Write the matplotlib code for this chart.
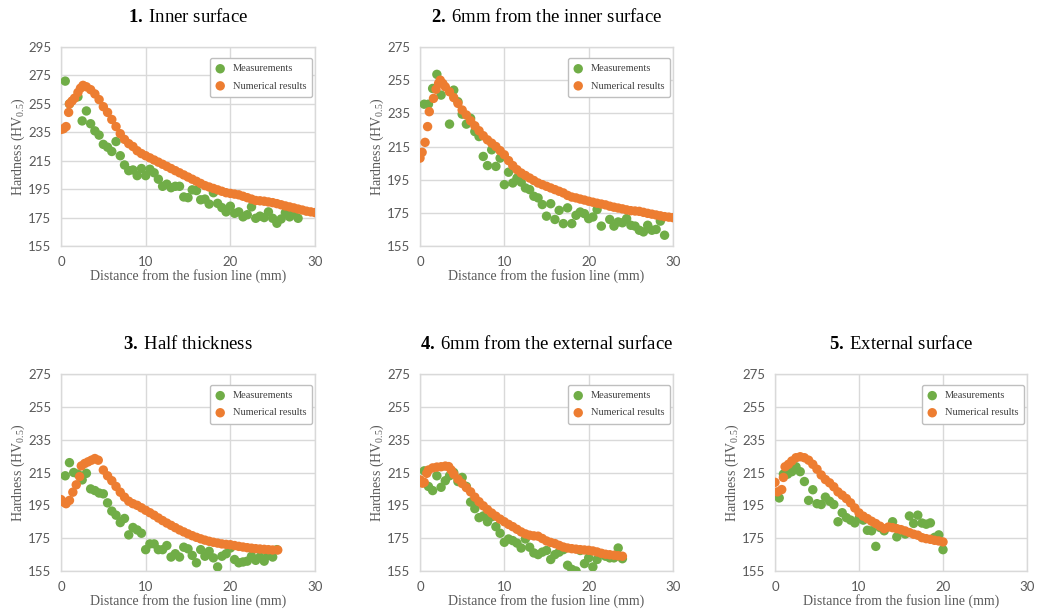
import matplotlib
matplotlib.use('Agg')
import matplotlib.pyplot as plt

# -- colours / fonts (Excel look) -------------------------------------------
GREEN = '#70AD47'
ORANGE = '#ED7D31'
GRID = '#D9D9D9'
TICK = '#595959'
SERIF = 'Liberation Serif'

plt.rcParams['mathtext.fontset'] = 'custom'
plt.rcParams['mathtext.rm'] = SERIF
plt.rcParams['mathtext.it'] = SERIF + ':italic'
plt.rcParams['mathtext.bf'] = SERIF + ':bold'

# -- data --------------------------------------------------------------------
# 1. Inner surface
meas1_x = [0.5, 1, 2, 2.5, 3, 3.5, 4, 4.5, 5, 5.5, 6, 6.5, 7, 7.5, 8, 8.5, 9, 9.5,
           10, 10.5, 11, 11.5, 12, 12.5, 13, 13.5, 14, 14.5, 15, 15.5, 16, 16.5,
           17, 17.5, 18, 18.5, 19, 19.5, 20, 20.5, 21, 21.5, 22, 22.5, 23, 23.5,
           24, 24.5, 25, 25.5, 26, 26.5, 27, 27.5, 28]
meas1_y = [271, 255, 260, 243, 250, 241, 236, 233, 226.5, 224.5, 221.5, 228.5,
           218.5, 212, 208, 208.5, 204.5, 209.5, 204.5, 209, 206.5, 202, 197,
           198.5, 196, 197, 197, 189.5, 189, 194.5, 194, 187.5, 188, 184.5, 192.5,
           185, 182, 179, 183, 178, 179, 175.5, 177, 182.5, 174.5, 176, 175,
           179, 174.5, 171, 174, 178.5, 175.5, 178, 174.5]
num1_x = [0, 0.3, 0.6, 0.9, 1.0, 1.3, 1.6, 2.0, 2.3, 2.6, 3.0, 3.5, 4.0, 4.5, 5.0,
          5.5, 6.0, 6.5, 7.0, 7.5, 8.0, 8.5, 9.0, 9.5, 10, 10.5, 11, 11.5, 12,
          12.5, 13, 13.5, 14, 14.5, 15, 15.5, 16, 16.5, 17, 17.5, 18, 18.5, 19,
          19.5, 20, 20.5, 21, 21.5, 22, 22.5, 23, 23.5, 24, 24.5, 25, 25.5, 26,
          26.5, 27, 27.5, 28, 28.5, 29, 29.5, 30]
num1_y = [237, 237.5, 239, 249, 255, 257, 259, 263, 266, 268, 267, 265, 262, 258,
          253, 249, 244, 239, 234, 230, 227, 225, 222, 220, 218.5, 217, 215.5,
          214, 212.5, 211, 209.5, 208, 206.5, 205, 203.5, 202, 200.5, 199, 197.5,
          196.5, 195.5, 194.5, 193.5, 192.5, 192, 191.5, 191, 190, 189, 188, 187,
          186.8, 186.5, 186, 185.5, 184.8, 184, 183.2, 182.5, 181.8, 181, 180.3,
          179.5, 179, 178.5]

# 2. 6mm from the inner surface
meas2_x = [0.5, 1, 1.5, 2, 2.5, 3.5, 4, 4.5, 5, 5.5, 6, 6.5, 7, 7.5, 8, 8.5, 9,
           9.5, 10, 10.5, 11, 11.5, 12, 12.5, 13, 13.5, 14, 14.5, 15, 15.5, 16,
           16.5, 17, 17.5, 18, 18.5, 19, 19.5, 20, 20.5, 21, 21.5, 22.5, 23, 23.5,
           24, 24.5, 25, 25.5, 26, 26.5, 27, 27.5, 28, 28.5, 29]
meas2_y = [240.5, 240.5, 250, 258.5, 246, 228.5, 249, 242, 234.5, 228.5, 232, 224,
           221, 209, 203.5, 213, 203, 208, 192, 199.5, 193, 196, 193.5, 190, 189,
           185, 184, 180, 173, 180.5, 171, 176.5, 168.5, 178, 168.5, 173.5, 175.5,
           174.5, 171.5, 172.5, 177, 167, 171, 167, 169.5, 169, 171.5, 167.5, 167,
           164.5, 163.5, 167.5, 164.5, 165, 170, 161.5]
num2_x = [0, 0.25, 0.6, 0.9, 1.1, 1.6, 1.9, 2.2, 2.4, 2.7, 3.0, 3.5, 4.0, 4.5, 5.0,
          5.5, 6.0, 6.5, 7.0, 7.5, 8.0, 8.5, 9.0, 9.5, 10, 10.5, 11, 11.5, 12,
          12.5, 13, 13.5, 14, 14.5, 15, 15.5, 16, 16.5, 17, 17.5, 18, 18.5, 19,
          19.5, 20, 20.5, 21, 21.5, 22, 22.5, 23, 23.5, 24, 24.5, 25, 25.5, 26,
          26.5, 27, 27.5, 28, 28.5, 29, 29.5, 30]
num2_y = [208, 211.5, 217.5, 227, 236, 244, 249.5, 253, 255, 253, 251, 248, 244.5,
          241, 237, 234, 230.5, 227.5, 224.5, 221.5, 219, 217, 215, 212.5, 210,
          206.5, 203.5, 201, 199, 197.5, 196, 194.5, 193, 192, 191, 190, 189, 188,
          187, 185.5, 184.5, 184, 183.3, 182.7, 182, 181.4, 180.8, 180.3, 179.8,
          179, 178.4, 177.9, 177.4, 176.8, 176.3, 176.1, 175.9, 175.3, 174.7,
          174.2, 173.7, 173.2, 172.7, 172.4, 172.1]

# 3. Half thickness
meas3_x = [0.5, 1, 1.5, 2, 2.5, 3, 3.5, 4, 4.5, 5, 5.5, 6, 6.5, 7, 7.5, 8, 8.5, 9,
           9.5, 10, 10.5, 11, 11.5, 12, 12.5, 13, 13.5, 14, 14.5, 15, 15.5, 16,
           16.5, 17, 17.5, 18, 18.5, 19, 19.5, 20, 20.5, 21, 21.5, 22, 22.5, 23,
           23.5, 24, 24.5, 25, 25.5]
meas3_y = [213, 221, 215, 214, 210.5, 214.5, 205, 204, 202.5, 202, 196.5, 191.5,
           189, 184.5, 187, 177, 181.5, 180, 178, 168, 171.5, 171.5, 168, 168,
           170.5, 163.5, 165.5, 163.5, 169.5, 168.5, 164.5, 160, 168, 164, 167,
           163, 157.5, 164, 165.5, 169, 162, 160, 160.5, 161, 164, 161.5, 163.5,
           161, 164.5, 163.5, 168]
num3_x = [0, 0.3, 0.6, 1.0, 1.4, 1.8, 2.2, 2.4, 2.8, 3.2, 3.6, 4.0, 4.4, 5.0, 5.5,
          6.0, 6.5, 7.0, 7.5, 8.0, 8.5, 9.0, 9.5, 10, 10.5, 11, 11.5, 12, 12.5,
          13, 13.5, 14, 14.5, 15, 15.5, 16, 16.5, 17, 17.5, 18, 18.5, 19, 19.5,
          20, 20.5, 21, 21.5, 22, 22.5, 23, 23.5, 24, 24.5, 25, 25.6]
num3_y = [198.5, 197, 196, 198, 203, 207.5, 212.5, 219, 220.5, 221.5, 222.5,
          223.5, 222.5, 216.5, 213, 210, 206.5, 203, 200, 197.5, 196, 195, 193.5,
          192, 190.5, 189, 187.3, 185.7, 184.2, 182.8, 181.4, 180, 178.8, 177.6,
          176.5, 175.5, 174.6, 173.8, 173.1, 172.5, 172, 171.5, 171.2, 171,
          170.5, 170, 169.6, 169.2, 168.9, 168.6, 168.4, 168.2, 168, 167.8, 167.8]

# 4. 6mm from the external surface
meas4_x = [0.5, 1, 1.5, 2, 2.5, 3, 3.5, 4, 4.5, 5, 5.5, 6, 6.5, 7, 7.5, 8, 8.5, 9,
           9.5, 10, 10.5, 11, 11.5, 12, 12.5, 13, 13.5, 14, 14.5, 15, 15.5, 16,
           16.5, 17, 17.5, 18, 18.5, 19, 19.5, 20, 20.5, 21, 21.5, 22, 22.5, 23,
           23.5, 24]
meas4_y = [216, 206.5, 204, 213, 206, 210, 213, 215, 209.5, 212, 206.5, 197, 193,
           187.5, 188.5, 185, 188, 182, 178, 172.5, 174.5, 173.5, 172, 169, 174.5,
           169.5, 166, 165, 166.5, 167.5, 162, 165, 166.5, 168, 158.5, 156, 155,
           167.5, 159.5, 163, 157.5, 162, 165.5, 164, 163, 163, 169, 162.5]
num4_x = [0, 0.3, 0.5, 0.8, 1.0, 1.5, 2.0, 2.5, 3.0, 3.4, 3.7, 4.0, 4.5, 5.0, 5.5,
          6.0, 6.5, 7.0, 7.5, 8.0, 8.5, 9.0, 9.5, 10, 10.5, 11, 11.5, 12, 12.5,
          13, 13.5, 14, 14.5, 15, 15.5, 16, 16.5, 17, 17.5, 18, 18.5, 19, 19.5,
          20, 20.5, 21, 21.5, 22, 22.5, 23, 23.5, 24]
num4_y = [210.5, 208.5, 209, 214.5, 216.5, 217.8, 218.3, 218.5, 218.9, 218.6,
          216.5, 214, 211, 208.3, 205.8, 203.2, 200, 197.2, 194.7, 192.4, 190.3,
          188.4, 186.6, 185, 183.4, 182, 180.4, 178.8, 177.6, 176.8, 176.4, 176.2,
          174.8, 173.3, 172.4, 171.7, 170.6, 169.6, 169, 168.6, 168.3, 168, 167.8,
          167.6, 167.2, 166.6, 165.8, 165.2, 164.9, 164.6, 164.3, 164]

# 5. External surface
meas5_x = [0.5, 1, 1.5, 2, 2.5, 3, 3.5, 4, 4.5, 5, 5.5, 6, 6.5, 7, 7.5, 8, 8.5, 9,
           9.5, 10, 10.5, 11, 11.5, 12, 12.5, 13, 14, 14.5, 15.5, 16, 16.5, 17,
           17.5, 18, 18.5, 19, 19.5, 20]
meas5_y = [199.5, 214, 214, 215.5, 218.5, 215.5, 209.5, 198, 204.5, 196, 195.5,
           200, 197.5, 195.5, 185, 190.5, 187.5, 186, 184.3, 187, 186, 179.8,
           179.5, 170, 181.5, 179.5, 185, 175.8, 177.5, 188.5, 184, 189, 184.2,
           183.5, 184.3, 175.5, 177, 168]
num5_x = [0, 0.3, 0.8, 1.0, 1.2, 1.6, 2.0, 2.5, 3.0, 3.5, 4.0, 4.5, 5.0, 5.5, 6.0,
          6.5, 7.0, 7.5, 8.0, 8.5, 9.0, 9.5, 10, 10.5, 11, 11.5, 12, 12.5, 13,
          13.5, 14, 14.5, 15, 15.5, 16, 16.5, 17, 17.5, 18, 18.5, 19, 19.5, 20]
num5_y = [209, 203.2, 204.6, 212, 218.5, 220, 222, 224, 224.6, 224, 222.5, 220,
          217, 213.5, 210.7, 208.7, 206.3, 203.2, 201.2, 199.1, 196.5, 193.4,
          190.4, 188.4, 186.9, 185.3, 183.9, 182.3, 180.8, 181.8, 181.4, 180.8,
          180.2, 179.4, 178.4, 177.4, 176.8, 175.3, 174.7, 174.3, 173.7, 173.3,
          172.7]

panels = [
    ('1.', 'Inner surface', meas1_x, meas1_y, num1_x, num1_y, 155, 295),
    ('2.', '6mm from the inner surface', meas2_x, meas2_y, num2_x, num2_y, 155, 275),
    ('3.', 'Half thickness', meas3_x, meas3_y, num3_x, num3_y, 155, 275),
    ('4.', '6mm from the external surface', meas4_x, meas4_y, num4_x, num4_y, 155, 275),
    ('5.', 'External surface', meas5_x, meas5_y, num5_x, num5_y, 155, 275),
]

# axes boxes in pixels: left, right, top, bottom
boxes = [(61, 315, 47, 246), (420, 673, 47, 246),
         (61, 315, 374, 571), (420, 673, 374, 571), (775, 1027, 374, 571)]

W, H = 1040, 611
fig = plt.figure(figsize=(W / 100, H / 100), dpi=100)
fig.patch.set_facecolor('white')

for (num, name, mx, my, nx, ny, y0, y1), (l, r, t, b) in zip(panels, boxes):
    ax = fig.add_axes([l / W, 1 - b / H, (r - l) / W, (b - t) / H])
    ax.scatter(mx, my, s=46, color=GREEN, edgecolors='none', zorder=3,
               label='Measurements')
    ax.scatter(nx, ny, s=46, color=ORANGE, edgecolors='none', zorder=4,
               label='Numerical results')
    ax.set_xlim(0, 30)
    ax.set_ylim(y0, y1)
    ax.set_xticks([0, 10, 20, 30])
    ax.set_yticks(range(y0, y1 + 1, 20))
    ax.grid(True, color=GRID, linewidth=1)
    ax.set_axisbelow(True)
    for s in ax.spines.values():
        s.set_color(GRID)
        s.set_linewidth(1)
    ax.tick_params(length=0, colors=TICK, labelsize=9.5, pad=7)
    for lab in ax.get_xticklabels() + ax.get_yticklabels():
        lab.set_family('Lato')
    ax.set_xlabel('Distance from the fusion line (mm)', family=SERIF,
                  fontsize=10, color=TICK, labelpad=1)
    ax.set_ylabel(r'Hardness (HV$_{\mathrm{0.5}}$)', family=SERIF,
                  fontsize=10, color=TICK, labelpad=1)
    ax.set_title(r'$\mathbf{' + num + r'}\;$' + name, family=SERIF,
                 fontsize=13.5, color='black', pad=18)
    leg = ax.legend(loc='upper right', bbox_to_anchor=(0.99, 0.945),
                    prop={'family': SERIF, 'size': 7.5}, frameon=True,
                    fancybox=True, edgecolor='#BFBFBF', framealpha=1,
                    handlelength=0.8, handletextpad=0.8, labelspacing=0.75,
                    borderpad=0.6, scatterpoints=1, borderaxespad=0)
    for txt in leg.get_texts():
        txt.set_color('#404040')

fig.savefig('out.png', dpi=100, facecolor='white')
